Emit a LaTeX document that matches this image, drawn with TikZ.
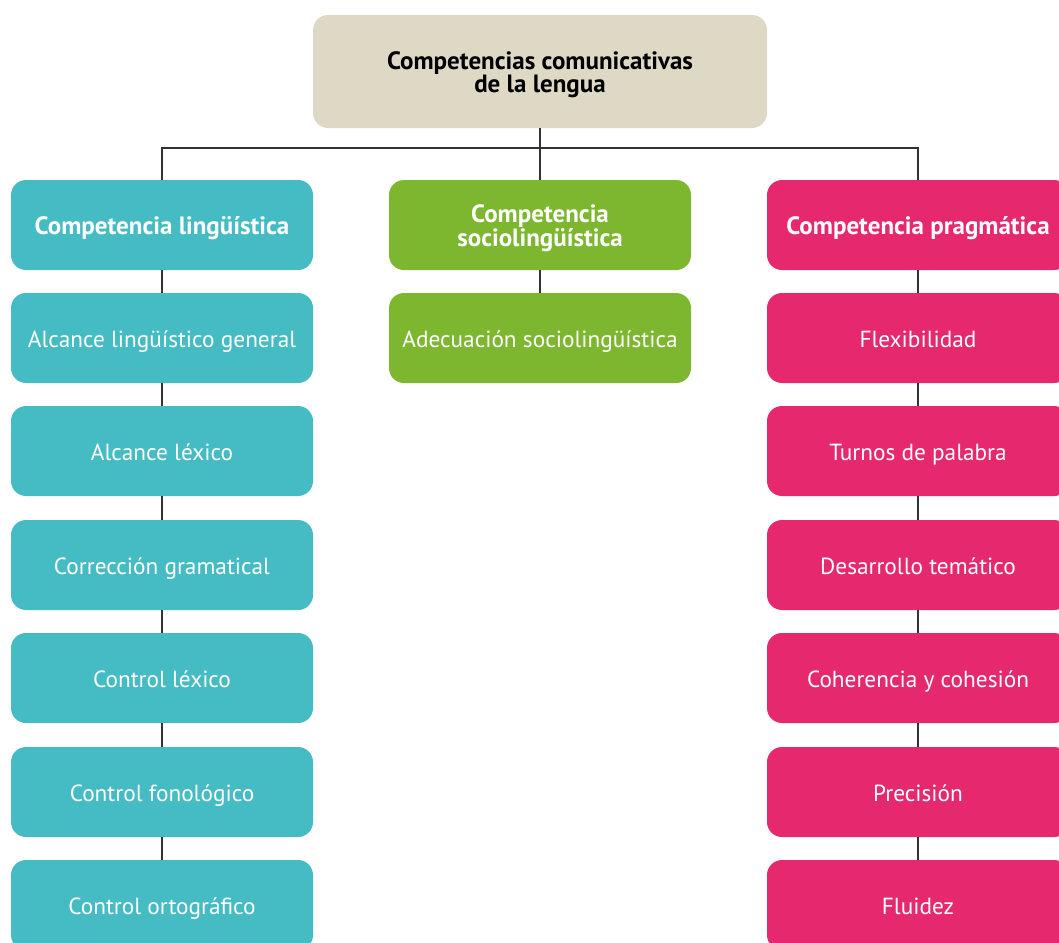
\documentclass[tikz,border=0pt]{standalone}
\usepackage{fontspec}
\setmainfont{PT Sans}
\definecolor{cteal}{HTML}{45BBC3}
\definecolor{cgreen}{HTML}{7DB72F}
\definecolor{cpink}{HTML}{E6286E}
\definecolor{cbeige}{HTML}{DDD9C4}
\definecolor{cline}{HTML}{333333}
\newcommand{\topstrut}{\rule{0pt}{25pt}}
\begin{document}
\begin{tikzpicture}[x=1pt,y=-1pt,
  box/.style={rectangle,rounded corners=15pt,minimum width=302pt,minimum height=90pt,inner sep=0pt,text=white,align=center,
    font=\fontsize{23.3}{23}\selectfont},
  one/.style={text height=19pt,text depth=0pt},
  ling/.style={box,fill=cteal},
  socio/.style={box,fill=cgreen},
  prag/.style={box,fill=cpink},
  head/.style={font=\fontsize{25}{23}\selectfont\bfseries},
  conn/.style={draw=cline,line width=1.6pt}]
\useasboundingbox (0,0) rectangle (1059,942);
\clip (0,0) rectangle (1059,942);
\node[box,fill=cbeige,text=black,minimum width=454pt,minimum height=113pt,head] (top) at (540,71.5) {\topstrut Competencias comunicativas\\de la lengua};
\coordinate (bus) at (540,148);
% left
\node[ling,one,head] (l0) at (162,225) {Competencia lingüística};
\node[ling,one] (l1) at (162,338) {Alcance lingüístico general};
\node[ling,one] (l2) at (162,451) {Alcance léxico};
\node[ling,one] (l3) at (162,565) {Corrección gramatical};
\node[ling,one] (l4) at (162,678) {Control léxico};
\node[ling,one] (l5) at (162,792) {Control fonológico};
\node[ling,one] (l6) at (162,905) {Control ortográfico};
% middle
\node[socio,head] (s0) at (540,225) {\topstrut Competencia\\sociolingüística};
\node[socio,one] (s1) at (540,338) {Adecuación sociolingüística};
% right
\node[prag,one,head] (p0) at (918,225) {Competencia pragmática};
\node[prag,one] (p1) at (918,338) {Flexibilidad};
\node[prag,one] (p2) at (918,451) {Turnos de palabra};
\node[prag,one] (p3) at (918,565) {Desarrollo temático};
\node[prag,one] (p4) at (918,678) {Coherencia y cohesión};
\node[prag,one] (p5) at (918,792) {Precisión};
\node[prag,one] (p6) at (918,905) {Fluidez};
% connectors
\draw[conn] (top.south) -- (bus);
\draw[conn] (bus) -| (l0.north);
\draw[conn] (bus) -| (p0.north);
\draw[conn] (bus) -- (s0.north);
\foreach \c in {l,p}{
  \draw[conn] (\c0.south) -- (\c1.north);
  \draw[conn] (\c1.south) -- (\c2.north);
  \draw[conn] (\c2.south) -- (\c3.north);
  \draw[conn] (\c3.south) -- (\c4.north);
  \draw[conn] (\c4.south) -- (\c5.north);
  \draw[conn] (\c5.south) -- (\c6.north);
}
\draw[conn] (s0.south) -- (s1.north);
\end{tikzpicture}
\end{document}
